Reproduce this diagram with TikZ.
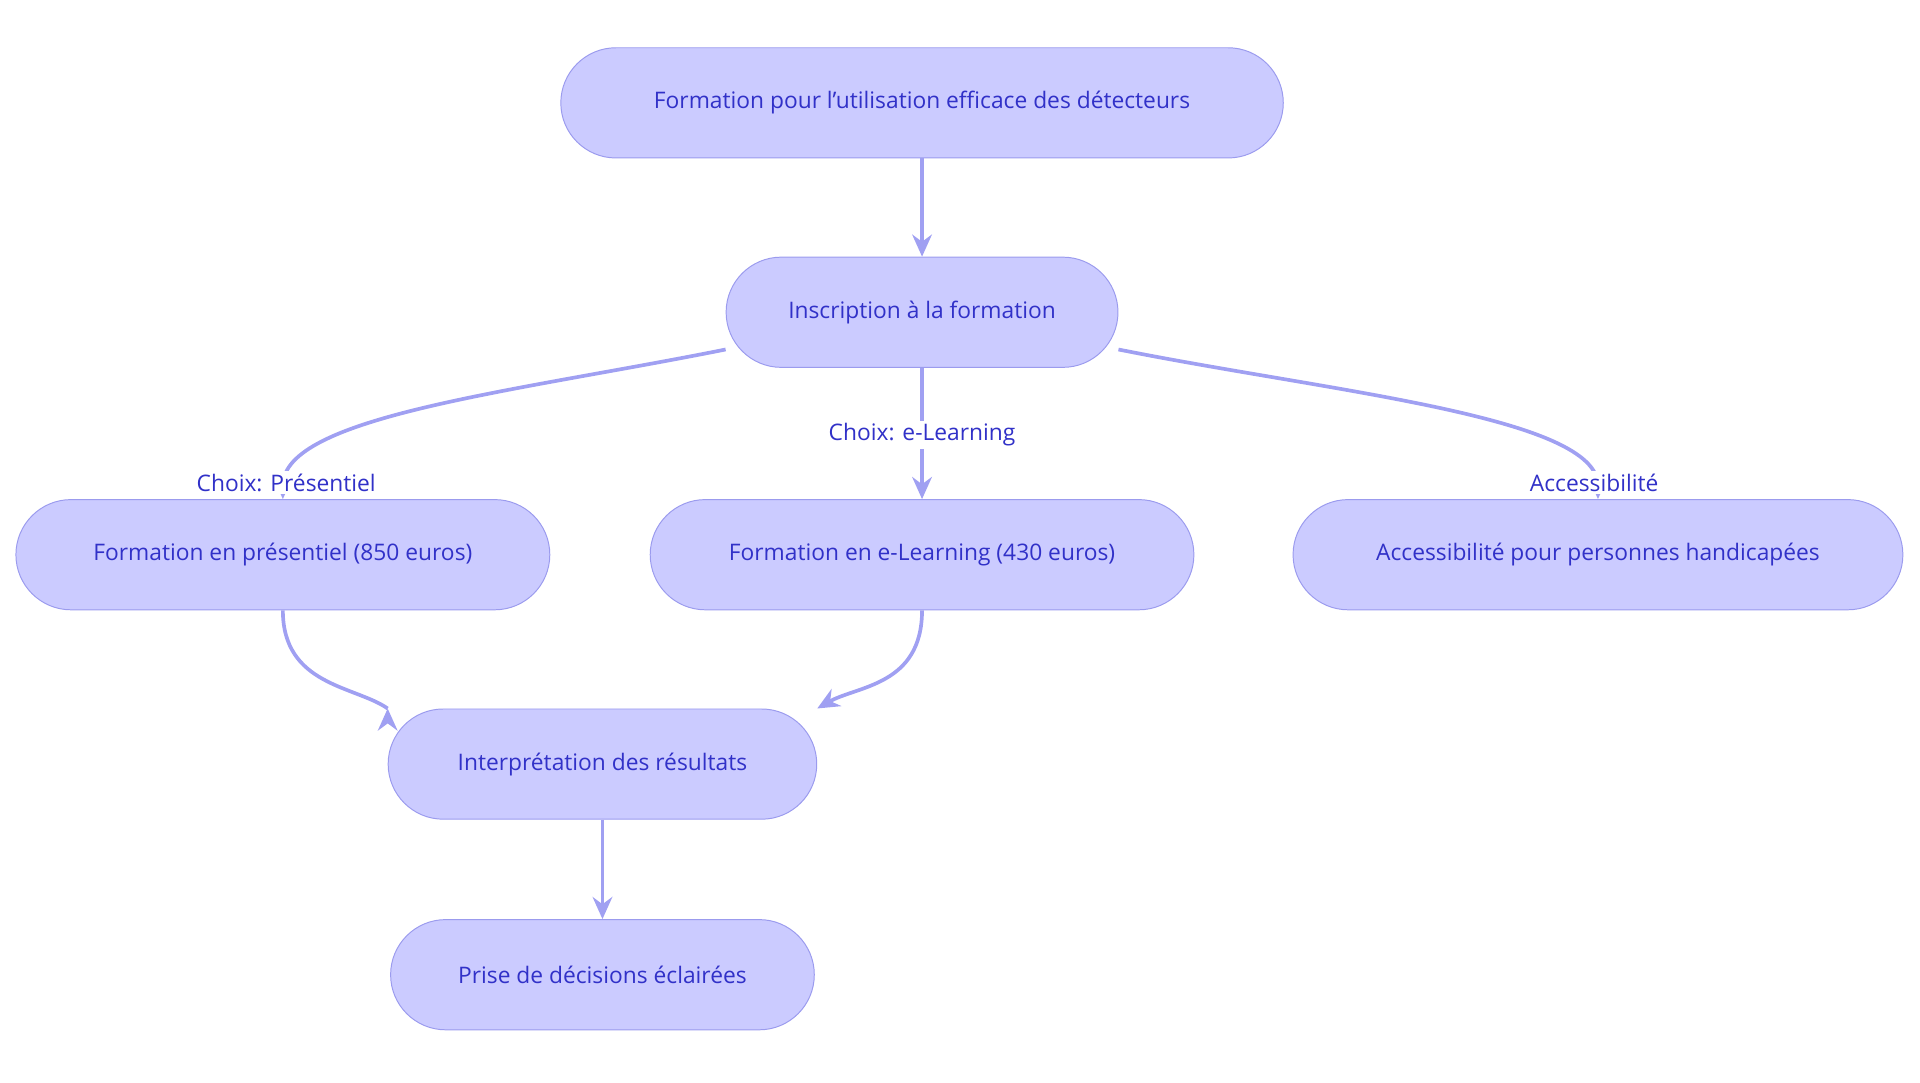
\documentclass[tikz,border=0pt]{standalone}
\usepackage{fontspec}
\setmainfont{Open Sans}
\usetikzlibrary{arrows.meta}
\definecolor{boxfill}{HTML}{CBCBFF}
\definecolor{boxline}{HTML}{9B9BEE}
\definecolor{txt}{HTML}{3131C8}
\definecolor{lnk}{HTML}{A0A0F2}
\begin{document}
\begin{tikzpicture}[x=0.5pt,y=-0.5pt,
  box/.style={draw=boxline,fill=boxfill,rounded corners=22.5pt,minimum height=45pt,
    text=txt,font=\fontsize{9.3}{11}\selectfont,inner sep=0pt},
  edge/.style={draw=lnk,line width=1.5pt,-{Stealth[length=9pt,width=8pt]}},
  lbl/.style={fill=white,text=txt,font=\fontsize{9.3}{11}\selectfont,inner sep=1pt}]
\useasboundingbox (0,0) rectangle (1568,884);
% nodes
\node[box,minimum width=295pt] (top) at (753,84) {Formation pour l'utilisation efficace des détecteurs};
\node[box,minimum width=160pt] (insc) at (753,255) {Inscription à la formation};
\node[box,minimum width=218pt] (pres) at (231,453) {Formation en présentiel (850 euros)};
\node[box,minimum width=222pt] (elearn) at (753,453) {Formation en e-Learning (430 euros)};
\node[box,minimum width=249pt] (acces) at (1305,453) {Accessibilité pour personnes handicapées};
\node[box,minimum width=175pt] (interp) at (492,624) {Interprétation des résultats};
\node[box,minimum width=173pt] (prise) at (492,796) {Prise de décisions éclairées};
% connectors
\draw[edge] (top) -- (insc);
\draw[edge] (insc.south west) ++(0,-15) coordinate (a)
  (a) .. controls (420,320) and (231,340) .. node[lbl,pos=0.93] {Choix: Présentiel} (pres.north);
\draw[edge] (insc) -- node[lbl,pos=0.51] {Choix: e-Learning} (elearn);
\draw[edge] (insc.south east) ++(0,-15) coordinate (b)
  (b) .. controls (1086,320) and (1305,340) .. node[lbl,pos=0.93] {Accessibilité} (acces.north);
\draw[edge] (pres.south) .. controls (231,560) and (290,560) .. (interp.north west) ++(0,0);
\draw[edge] (elearn.south) .. controls (753,560) and (700,560) .. (interp.north east);
\draw[edge] (interp) -- (prise);
\end{tikzpicture}
\end{document}
